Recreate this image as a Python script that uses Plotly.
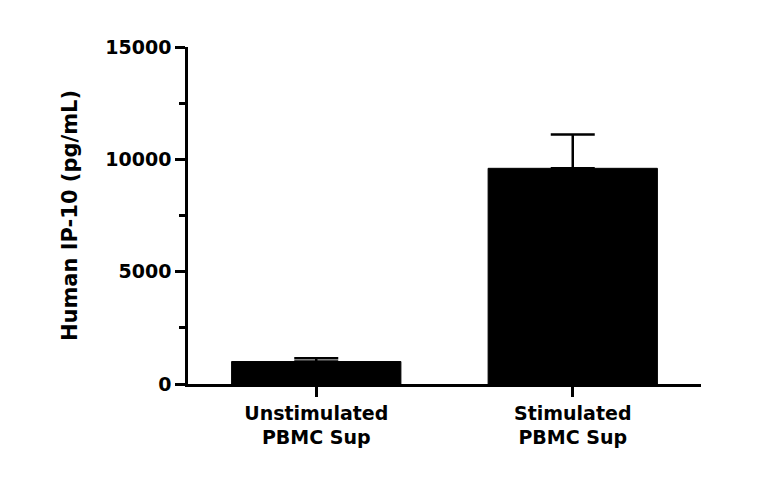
import plotly.graph_objects as go

categories = ["Unstimulated<br>PBMC Sup", "Stimulated<br>PBMC Sup"]
means = [1000, 9600]
errors = [150, 1500]
yticks = [0, 5000, 10000, 15000]
yticklabels = ["0", "5000", "10000", "15000"]

F = "DejaVu Sans"
fig = go.Figure(go.Bar(
    x=categories, y=means, width=0.66,
    marker=dict(color="black", line=dict(color="black", width=1)),
    error_y=dict(type="data", array=errors, arrayminus=[0, 0], symmetric=False,
                 color="black", thickness=2.5, width=22),
))
fig.update_layout(
    width=768, height=482, plot_bgcolor="white", paper_bgcolor="white",
    margin=dict(l=180, r=75, t=39, b=106),
    font=dict(family=F, size=19, color="black"),
    showlegend=False,
)
fig.update_xaxes(range=[-0.5, 1.5], showline=True, linecolor="black", linewidth=2.5,
                 ticks="outside", ticklen=10, tickwidth=2.5, tickcolor="black",
                 tickfont=dict(size=19, family=F, weight="bold"))
fig.update_yaxes(range=[0, 15000], tickvals=yticks, ticktext=yticklabels, showgrid=False,
                 zeroline=False, showline=True, linecolor="black", linewidth=2.5,
                 ticks="outside", ticklen=10, tickwidth=2.5, tickcolor="black",
                 minor=dict(tickvals=[2500, 7500, 12500], ticks="outside", ticklen=6,
                            tickwidth=2.5, tickcolor="black"),
                 tickfont=dict(size=19, family=F, weight="bold"),
                 title=dict(text="Human IP-10 (pg/mL)", standoff=22,
                            font=dict(size=21, family=F, weight="bold")))
fig.write_html("out.html")
